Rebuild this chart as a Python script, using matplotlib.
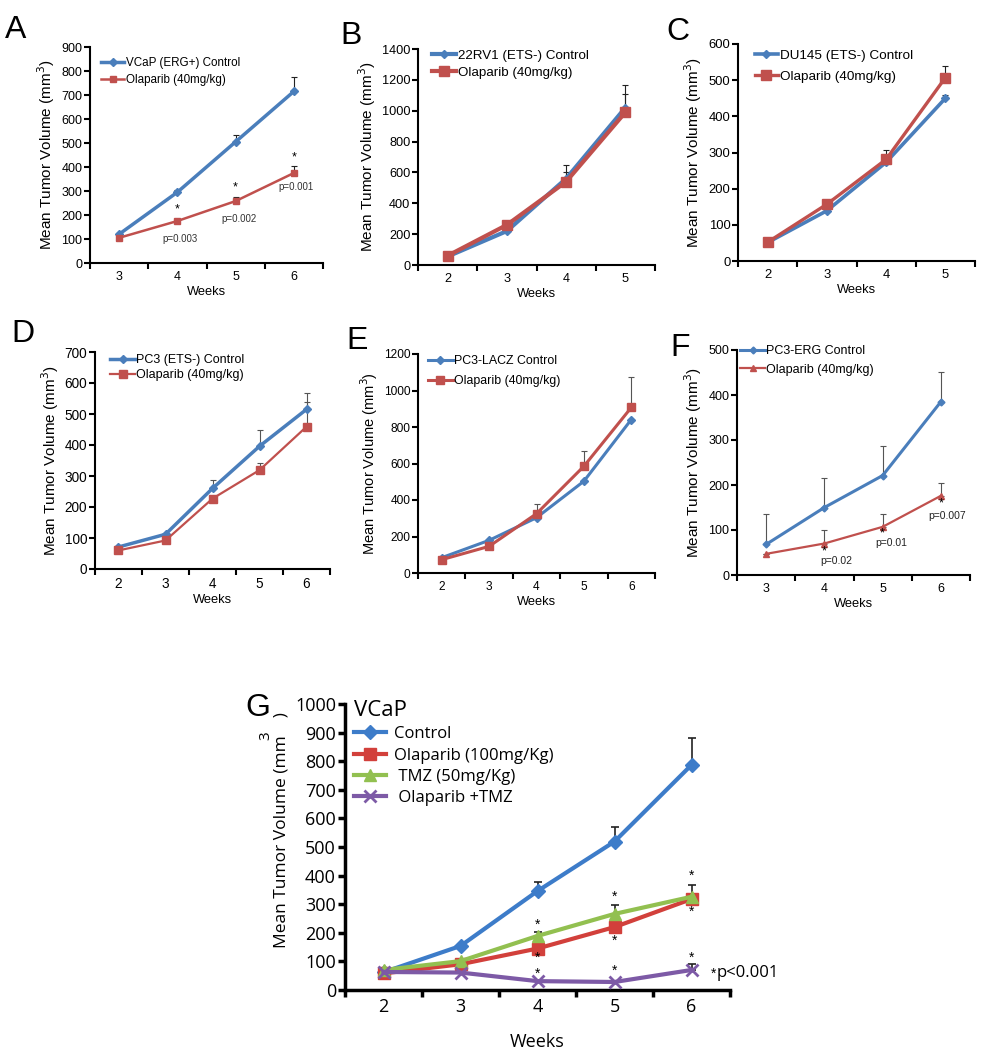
import matplotlib
matplotlib.use("Agg")
import matplotlib.pyplot as plt
from matplotlib.ticker import FixedLocator

plt.rcParams['font.family'] = ['Liberation Sans', 'DejaVu Sans']

# ---------------- data ----------------
weeks_A = [3, 4, 5, 6]
ctrl_A = [120, 295, 505, 715]
ctrl_A_err = [5, 10, 30, 60]
olap_A = [105, 175, 258, 375]
olap_A_err = [5, 8, 15, 30]
pvals_A = ["p=0.003", "p=0.002", "p=0.001"]

weeks_B = [2, 3, 4, 5]
ctrl_B = [55, 220, 560, 1020]
ctrl_B_err = [0, 10, 90, 145]
olap_B = [60, 260, 540, 990]
olap_B_err = [0, 10, 60, 120]

weeks_C = [2, 3, 4, 5]
ctrl_C = [51, 139, 273, 450]
ctrl_C_err = [0, 5, 10, 10]
olap_C = [52, 157, 281, 507]
olap_C_err = [0, 13, 25, 31]

weeks_D = [2, 3, 4, 5, 6]
ctrl_D = [71, 112, 260, 396, 515]
ctrl_D_err = [0, 0, 27, 52, 53]
olap_D = [60, 92, 227, 319, 459]
olap_D_err = [0, 0, 0, 22, 79]

weeks_E = [2, 3, 4, 5, 6]
ctrl_E = [84, 179, 303, 503, 841]
olap_E = [73, 146, 325, 585, 907]
olap_E_err = [0, 0, 55, 84, 168]

weeks_F = [3, 4, 5, 6]
ctrl_F = [68, 150, 221, 385]
ctrl_F_err = [67, 66, 66, 67]
olap_F = [47, 70, 107, 176]
olap_F_err = [0, 30, 28, 28]
pvals_F = ["p=0.02", "p=0.01", "p=0.007"]

weeks_G = [2, 3, 4, 5, 6]
ctrl_G = [62, 154, 346, 519, 787]
ctrl_G_err = [0, 5, 33, 50, 93]
olap_G = [58, 90, 145, 220, 318]
olap_G_err = [0, 0, 5, 10, 15]
tmz_G = [70, 101, 189, 266, 326]
tmz_G_err = [0, 0, 15, 30, 41]
combo_G = [63, 61, 31, 28, 70]
combo_G_err = [0, 0, 0, 5, 21]
star_x_G = [4, 4, 4, 5, 5, 5, 6, 6, 6]
star_y_G = [227, 111, 58, 326, 172, 68, 400, 272, 113]

BLUE = "#4a7ebb"
RED = "#c0504d"

W, H = 984, 1050
fig = plt.figure(figsize=(W / 100, H / 100), dpi=100)


def rect(l, r, t, b):
    return [l / W, 1 - b / H, (r - l) / W, (b - t) / H]


def fx(px):
    return px / W


def fy(py):
    return 1 - py / H


def style_axes(ax, weeks, ylim, ystep, fs=9, lw=1.5, ylabel_fs=11, xlabel_fs=9.3,
               ylabel="Mean Tumor Volume (mm$^3$)", family=None, ticklen=4):
    ax.set_xlim(weeks[0] - 0.5, weeks[-1] + 0.5)
    ax.set_ylim(0, ylim)
    for s in ["top", "right"]:
        ax.spines[s].set_visible(False)
    for s in ["left", "bottom"]:
        ax.spines[s].set_linewidth(lw)
    ax.set_xticks(weeks)
    ax.xaxis.set_minor_locator(FixedLocator([w + 0.5 for w in [weeks[0] - 1] + list(weeks)]))
    ax.tick_params(axis='x', which='major', length=0, labelsize=fs, pad=6)
    ax.tick_params(axis='x', which='minor', length=ticklen, width=lw, direction='out')
    ax.set_yticks(range(0, ylim + 1, ystep))
    ax.tick_params(axis='y', which='major', length=ticklen, width=lw, labelsize=fs, pad=1.5)
    kw = {}
    if family:
        kw['family'] = family
        for t in ax.get_xticklabels() + ax.get_yticklabels():
            t.set_family(family)
    ax.set_xlabel("Weeks", fontsize=xlabel_fs, labelpad=2, **kw)
    if ylabel:
        ax.set_ylabel(ylabel, fontsize=ylabel_fs, labelpad=3, **kw)


def errs(ax, x, y, e, color='#222222', lw=0.8, cap=2.5):
    ax.errorbar(x, y, yerr=[[0] * len(e), e], fmt='none', ecolor=color,
                elinewidth=lw, capsize=cap, capthick=lw, zorder=1)


def legend(ax, x, y_first, fs, ls, hl=2.0):
    em = fs * 100 / 72
    top = y_first - 0.62 * em
    ax.legend(loc='upper left', bbox_to_anchor=(fx(x), fy(top)),
              bbox_transform=fig.transFigure, frameon=False, fontsize=fs,
              handlelength=hl, handletextpad=0.12, labelspacing=ls,
              borderpad=0, borderaxespad=0)


# ---------------- A ----------------
ax = fig.add_axes(rect(90, 323, 47, 263))
errs(ax, weeks_A, ctrl_A, ctrl_A_err)
errs(ax, weeks_A, olap_A, olap_A_err)
ax.plot(weeks_A, ctrl_A, color=BLUE, lw=2.5, marker='D', ms=4, label="VCaP (ERG+) Control", zorder=3)
ax.plot(weeks_A, olap_A, color=RED, lw=1.8, marker='s', ms=5, label="Olaparib (40mg/kg)", zorder=3)
for w, yv in zip(weeks_A[1:], [222, 314, 439]):
    ax.text(w, yv, "*", ha='center', va='center', fontsize=9)
for (w, yv), p in zip([(4.05, 100), (5.05, 184), (6.04, 316)], pvals_A):
    ax.text(w, yv, p, ha='center', va='center', fontsize=7, color='#333333')
style_axes(ax, weeks_A, 900, 100, fs=9)
legend(ax, 101, 64, 8.4, 0.48)
fig.text(fx(5), fy(38), "A", fontsize=23)

# ---------------- B ----------------
ax = fig.add_axes(rect(418, 655, 49, 265))
errs(ax, weeks_B, ctrl_B, ctrl_B_err)
errs(ax, weeks_B, olap_B, olap_B_err)
ax.plot(weeks_B, ctrl_B, color=BLUE, lw=3.0, marker='D', ms=4.5, label="22RV1 (ETS-) Control", zorder=3)
ax.plot(weeks_B, olap_B, color=RED, lw=3.0, marker='s', ms=7.5, label="Olaparib (40mg/kg)", zorder=3)
style_axes(ax, weeks_B, 1400, 200, fs=9.2)
legend(ax, 432, 58, 9.6, 0.33, hl=1.8)
fig.text(fx(340), fy(44), "B", fontsize=23)

# ---------------- C ----------------
ax = fig.add_axes(rect(738, 975, 44, 261))
errs(ax, weeks_C, ctrl_C, ctrl_C_err)
errs(ax, weeks_C, olap_C, olap_C_err)
ax.plot(weeks_C, ctrl_C, color=BLUE, lw=2.6, marker='D', ms=4.5, label="DU145 (ETS-) Control", zorder=3)
ax.plot(weeks_C, olap_C, color=RED, lw=2.4, marker='s', ms=7, label="Olaparib (40mg/kg)", zorder=3)
style_axes(ax, weeks_C, 600, 100, fs=9.4)
legend(ax, 755, 58, 9.7, 0.61, hl=1.7)
fig.text(fx(666), fy(40), "C", fontsize=23)

# ---------------- D ----------------
ax = fig.add_axes(rect(95, 330, 352, 569))
errs(ax, weeks_D, ctrl_D, ctrl_D_err, color='#555555')
errs(ax, weeks_D, olap_D, olap_D_err, color='#555555')
ax.plot(weeks_D, ctrl_D, color=BLUE, lw=2.5, marker='D', ms=4, label="PC3 (ETS-) Control", zorder=3)
ax.plot(weeks_D, olap_D, color=RED, lw=1.6, marker='s', ms=6, label="Olaparib (40mg/kg)", zorder=3)
style_axes(ax, weeks_D, 700, 100, fs=9.8)
legend(ax, 110, 362, 9.0, 0.22)
fig.text(fx(11), fy(342), "D", fontsize=23)

# ---------------- E ----------------
ax = fig.add_axes(rect(418, 655, 354, 573))
errs(ax, weeks_E, olap_E, olap_E_err, color='#555555')
ax.plot(weeks_E, ctrl_E, color=BLUE, lw=2.2, marker='D', ms=4, label="PC3-LACZ Control", zorder=3)
ax.plot(weeks_E, olap_E, color=RED, lw=2.2, marker='s', ms=6, label="Olaparib (40mg/kg)", zorder=3)
style_axes(ax, weeks_E, 1200, 200, fs=8.6, ylabel_fs=10.5)
legend(ax, 428, 363, 8.9, 0.66)
fig.text(fx(346), fy(349), "E", fontsize=23)

# ---------------- F ----------------
ax = fig.add_axes(rect(737, 970, 350, 575))
errs(ax, weeks_F, ctrl_F, ctrl_F_err, color='#555555')
errs(ax, weeks_F, olap_F, olap_F_err, color='#555555')
ax.plot(weeks_F, ctrl_F, color=BLUE, lw=2.2, marker='D', ms=3.5, label="PC3-ERG Control", zorder=3)
ax.plot(weeks_F, olap_F, color=RED, lw=1.6, marker='^', ms=4, label="Olaparib (40mg/kg)", zorder=3)
for w, yv in zip(weeks_F[1:], [52, 93, 158]):
    ax.text(w, yv, "*", ha='center', va='center', fontsize=9)
for (w, yv), p in zip([(4.2, 32), (5.15, 70), (6.1, 132)], pvals_F):
    ax.text(w, yv, p, ha='center', va='center', fontsize=7.5, color='#222222')
style_axes(ax, weeks_F, 500, 100, fs=9)
legend(ax, 740, 353, 9.0, 0.5)
fig.text(fx(670), fy(356), "F", fontsize=23)

# ---------------- G ----------------
GF = ['Open Sans', 'DejaVu Sans']
ax = fig.add_axes(rect(345, 730, 704, 990))
errs(ax, weeks_G, ctrl_G, ctrl_G_err, lw=1.2, cap=3)
errs(ax, weeks_G, olap_G, olap_G_err, lw=1.2, cap=3)
errs(ax, weeks_G, tmz_G, tmz_G_err, lw=1.2, cap=3)
errs(ax, weeks_G, combo_G, combo_G_err, lw=1.2, cap=3)
ax.plot(weeks_G, ctrl_G, color="#3d7cc9", lw=3, marker='D', ms=7, label="Control", zorder=3)
ax.plot(weeks_G, olap_G, color="#d2403b", lw=3, marker='s', ms=8.5, label="Olaparib (100mg/Kg)", zorder=3)
ax.plot(weeks_G, tmz_G, color="#92c050", lw=3, marker='^', ms=9, label=" TMZ (50mg/Kg)", zorder=3)
ax.plot(weeks_G, combo_G, color="#7d5aa6", lw=3, marker='x', ms=9, mew=2, label=" Olaparib +TMZ", zorder=3)
for w, yv in zip(star_x_G, star_y_G):
    ax.text(w, yv, "*", ha='center', va='center', fontsize=10)
ax.text(6.28, 58, "*", ha='center', va='center', fontsize=10)
ax.text(6.33, 58, "p<0.001", ha='left', va='center', fontsize=12, family=GF)
style_axes(ax, weeks_G, 1000, 100, fs=13, lw=2.5, ylabel_fs=12.5, xlabel_fs=13,
           ylabel="Mean Tumor Volume (mm    )", family=GF, ticklen=5)
ax.yaxis.set_label_coords(-0.145, 0.56)
ax.xaxis.labelpad = 12
leg = ax.legend(loc='upper left', bbox_to_anchor=(fx(354), fy(700)), bbox_transform=fig.transFigure,
                frameon=False, handlelength=1.9, handletextpad=0.5,
                labelspacing=0.32, borderpad=0, borderaxespad=0,
                title="VCaP", title_fontsize=16, alignment='left', prop={'family': GF, 'size': 12})
leg.get_title().set_family(GF)
fig.text(fx(266), fy(736), "3", fontsize=11, rotation=90, ha='center', va='center', family=GF)
fig.text(fx(245), fy(716), "G", fontsize=23)

fig.savefig("out.png", dpi=100)
